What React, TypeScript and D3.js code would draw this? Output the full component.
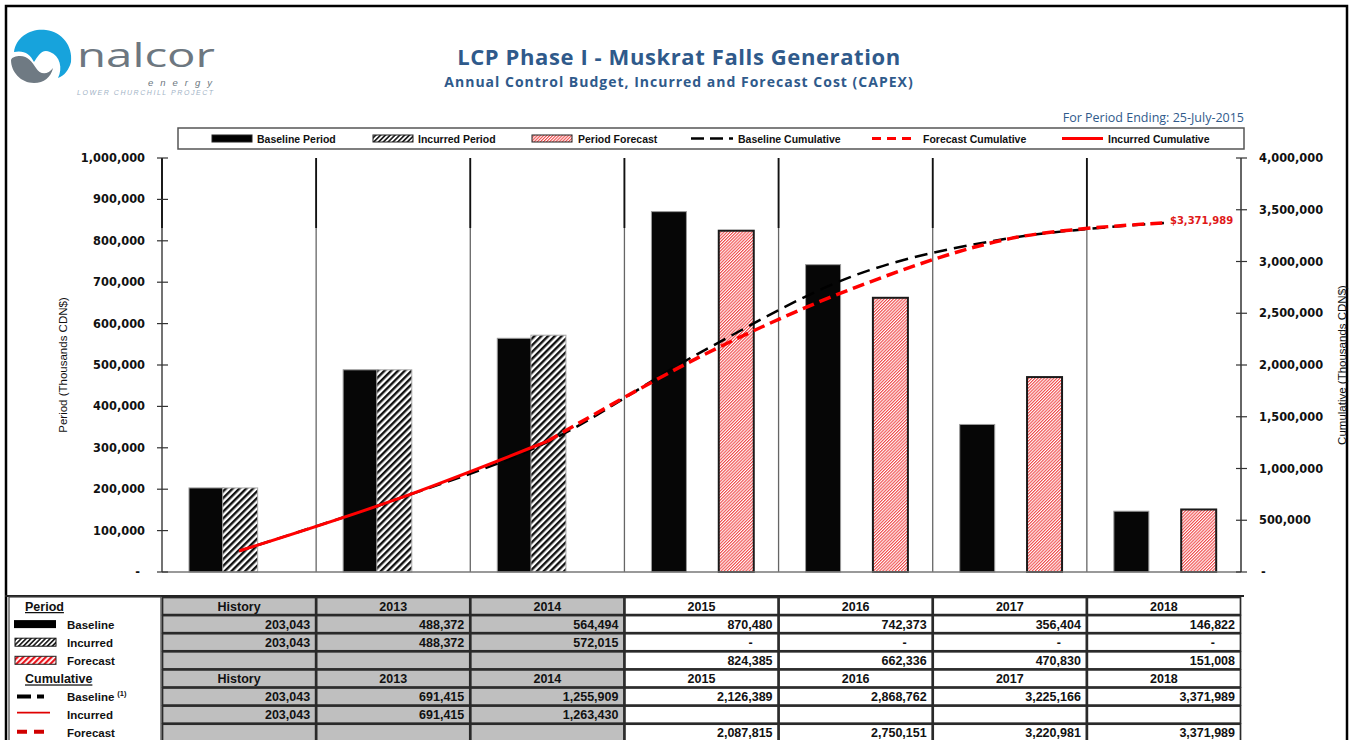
import * as d3 from "d3";

// ---- data (thousands CDN$) ----
const categories = ["History", "2013", "2014", "2015", "2016", "2017", "2018"];
const baselinePeriod = [203043, 488372, 564494, 870480, 742373, 356404, 146822];
const incurredPeriod = [203043, 488372, 572015, 0, 0, 0, 0];
const forecastPeriod: (number | null)[] = [null, null, null, 824385, 662336, 470830, 151008];
const baselineCumulative = [203043, 691415, 1255909, 2126389, 2868762, 3225166, 3371989];
const incurredCumulative: (number | null)[] = [203043, 691415, 1263430, null, null, null, null];
const forecastCumulative: (number | null)[] = [null, null, null, 2087815, 2750151, 3220981, 3371989];
const finalLabel = "$3,371,989";

const W = 1352;
const H = 740;
const PLOT = { left: 162, right: 1241, top: 158, bottom: 572 };
const TABLE_TOP = 597;
const ROW_H = 18.1;
const BAR_W = 35;

const SANS = "'Liberation Sans', Arial, sans-serif";
const VERDANA = "'DejaVu Sans', Verdana, sans-serif";
const TITLE_FONT = "'Open Sans', 'Liberation Sans', sans-serif";
const BLUE = "#2f5a8b";
const RED = "#ff0000";

const fmt = d3.format(",");
const acct = (v: number | null) => (v === null ? "" : v === 0 ? "-" : fmt(v));

function Logo() {
  return (
    <g>
      <path
        d="M14,52 C16,36 32,28 46,30 C62,32 73,46 71,62 C69,70 64,76 58,78 C63,68 60,56 50,52 C42,48 38,56 34,62 C30,54 24,50 14,52 Z"
        fill="#17a3dc"
      />
      <path
        d="M11,60 C11,72 21,83 34,83 C44,83 51,77 53,68 C48,75 40,75 36,68 C32,62 28,56 20,56 C16,56 12,57 11,60 Z"
        fill="#6f7a83"
      />
      <text
        x={77}
        y={67}
        fontFamily="'Open Sans', sans-serif"
        fontSize={33}
        fill="#6d7780"
        textLength={138}
        lengthAdjust="spacingAndGlyphs"
      >
        nalcor
      </text>
      <text x={148} y={86} fontFamily={SANS} fontStyle="italic" fontSize={9.5} fill="#6d7780" textLength={64}>
        energy
      </text>
      <text x={77} y={95} fontFamily={SANS} fontStyle="italic" fontSize={7} fill="#9fb3c6" textLength={136}>
        LOWER CHURCHILL PROJECT
      </text>
    </g>
  );
}

export default function App() {
  const x = d3.scaleBand<string>().domain(categories).range([PLOT.left, PLOT.right]).padding(0);
  const yLeft = d3.scaleLinear().domain([0, 1000000]).range([PLOT.bottom, PLOT.top]);
  const yRight = d3.scaleLinear().domain([0, 4000000]).range([PLOT.bottom, PLOT.top]);
  const slot = d3.scaleBand<string>().domain(["baseline", "incurred", "forecast"]).range([27, 128]);
  const cx = (c: string) => (x(c) ?? 0) + x.bandwidth() / 2;

  const line = d3
    .line<[string, number]>()
    .x((d) => cx(d[0]))
    .y((d) => yRight(d[1]))
    .curve(d3.curveCardinal.tension(0));

  const pairs = (vals: (number | null)[]) =>
    categories.map((c, i) => [c, vals[i]] as [string, number | null]).filter((d) => d[1] !== null) as [string, number][];

  const baselinePts = pairs(baselineCumulative);
  const incurredPts = pairs(incurredCumulative);
  // the forecast curve picks up from the last incurred point
  const forecastPts = [incurredPts[incurredPts.length - 1], ...pairs(forecastCumulative)];
  const lastPt = forecastPts[forecastPts.length - 1];

  const separators = categories.slice(1).map((c) => x(c) ?? 0);

  const rowY = (r: number) => TABLE_TOP + r * ROW_H;
  const periodRows = [baselinePeriod, incurredPeriod, forecastPeriod];
  const cumRows = [baselineCumulative, incurredCumulative, forecastCumulative];

  const legendItems = [
    { kind: "bar", fill: "#000", x0: 212, x1: 252, label: "Baseline Period", tx: 257 },
    { kind: "bar", fill: "url(#hatchBlackSm)", x0: 373, x1: 413, label: "Incurred Period", tx: 418 },
    { kind: "bar", fill: "url(#hatchRed)", x0: 532, x1: 572, label: "Period Forecast", tx: 578 },
    { kind: "line", stroke: "#000", dash: "13 6", w: 2.5, x0: 691, x1: 733, label: "Baseline Cumulative", tx: 738 },
    { kind: "line", stroke: RED, dash: "9 6", w: 3, x0: 872, x1: 917, label: "Forecast Cumulative", tx: 923 },
    { kind: "line", stroke: RED, dash: "", w: 3, x0: 1062, x1: 1103, label: "Incurred Cumulative", tx: 1108 },
  ];

  return (
    <svg
      width={W}
      height={H}
      viewBox={`0 0 ${W} ${H}`}
      style={{ position: "absolute", left: 0, top: 0, background: "#fff" }}
    >
      <defs>
        <pattern id="hatchBlack" width={4.8} height={4.8} patternUnits="userSpaceOnUse" patternTransform="rotate(45)">
          <rect width={4.8} height={4.8} fill="#fff" />
          <rect width={2.4} height={4.8} fill="#111" />
        </pattern>
        <pattern id="hatchBlackSm" width={3.4} height={3.4} patternUnits="userSpaceOnUse" patternTransform="rotate(45)">
          <rect width={3.4} height={3.4} fill="#fff" />
          <rect width={1.7} height={3.4} fill="#222" />
        </pattern>
        <pattern id="hatchRed" width={2.2} height={2.2} patternUnits="userSpaceOnUse" patternTransform="rotate(45)">
          <rect width={2.2} height={2.2} fill="#fff" />
          <rect width={1.1} height={2.2} fill="#f04848" />
        </pattern>
        <pattern id="hatchRedBold" width={4} height={4} patternUnits="userSpaceOnUse" patternTransform="rotate(45)">
          <rect width={4} height={4} fill="#fff" />
          <rect width={2.2} height={4} fill="#e8141c" />
        </pattern>
      </defs>

      <rect x={6} y={6} width={1341} height={760} fill="#fff" stroke="#000" strokeWidth={2.5} />

      <Logo />

      <text
        x={679}
        y={65}
        textAnchor="middle"
        fontFamily={TITLE_FONT}
        fontWeight={700}
        fontSize={22}
        letterSpacing={0.6}
        fill={BLUE}
      >
        LCP Phase I - Muskrat Falls Generation
      </text>
      <text
        x={679}
        y={87}
        textAnchor="middle"
        fontFamily={TITLE_FONT}
        fontWeight={700}
        fontSize={14}
        letterSpacing={1}
        fill={BLUE}
      >
        Annual Control Budget, Incurred and Forecast Cost (CAPEX)
      </text>
      <text x={1244} y={122} textAnchor="end" fontFamily={TITLE_FONT} fontSize={12.5} fill={BLUE}>
        For Period Ending: 25-July-2015
      </text>

      {/* legend */}
      <rect x={178} y={128} width={1066} height={21} fill="#fff" stroke="#555" strokeWidth={1.5} />
      {legendItems.map((d) => (
        <g key={d.label}>
          {d.kind === "bar" ? (
            <rect x={d.x0} y={135} width={d.x1 - d.x0} height={7} fill={d.fill} stroke="#222" strokeWidth={1} />
          ) : (
            <line x1={d.x0} x2={d.x1} y1={138.5} y2={138.5} stroke={d.stroke} strokeWidth={d.w} strokeDasharray={d.dash} />
          )}
          <text x={d.tx} y={142.5} fontFamily={SANS} fontWeight={700} fontSize={10.5} fill="#111">
            {d.label}
          </text>
        </g>
      ))}

      {/* category separators */}
      {separators.map((sx) => (
        <g key={sx}>
          <line x1={sx} x2={sx} y1={PLOT.top} y2={PLOT.bottom} stroke="#666" strokeWidth={1.3} />
          <line x1={sx} x2={sx} y1={PLOT.top} y2={228} stroke="#111" strokeWidth={1.8} />
        </g>
      ))}

      {/* bars */}
      {categories.map((c, i) => {
        const x0 = x(c) ?? 0;
        const f = forecastPeriod[i];
        return (
          <g key={c}>
            <rect
              x={x0 + (slot("baseline") ?? 0)}
              y={yLeft(baselinePeriod[i])}
              width={BAR_W}
              height={yLeft(0) - yLeft(baselinePeriod[i])}
              fill="#060606"
              stroke="#9a9a9a"
              strokeWidth={1}
            />
            {incurredPeriod[i] > 0 && (
              <rect
                x={x0 + (slot("incurred") ?? 0)}
                y={yLeft(incurredPeriod[i])}
                width={BAR_W}
                height={yLeft(0) - yLeft(incurredPeriod[i])}
                fill="url(#hatchBlack)"
                stroke="#aaa"
                strokeWidth={1}
              />
            )}
            {f !== null && (
              <rect
                x={x0 + (slot("forecast") ?? 0)}
                y={yLeft(f)}
                width={BAR_W}
                height={yLeft(0) - yLeft(f)}
                fill="url(#hatchRed)"
                stroke="#1a1a1a"
                strokeWidth={2}
              />
            )}
          </g>
        );
      })}

      {/* axes */}
      <line x1={PLOT.left} x2={PLOT.right} y1={PLOT.bottom} y2={PLOT.bottom} stroke="#777" strokeWidth={1.5} />
      <line x1={PLOT.left} x2={PLOT.left} y1={PLOT.top} y2={PLOT.bottom} stroke="#444" strokeWidth={1.5} />
      <line x1={PLOT.left} x2={PLOT.left} y1={PLOT.top} y2={228} stroke="#111" strokeWidth={1.8} />
      <line x1={PLOT.right} x2={PLOT.right} y1={PLOT.top} y2={PLOT.bottom} stroke="#333" strokeWidth={1.5} />
      {yLeft.ticks(10).map((t) => (
        <g key={`l${t}`}>
          <line x1={PLOT.left - 5} x2={PLOT.left + 6} y1={yLeft(t)} y2={yLeft(t)} stroke="#333" strokeWidth={1.2} />
          <text
            x={t === 0 ? 140 : 145}
            y={yLeft(t) + 4}
            textAnchor="end"
            fontFamily={VERDANA}
            fontWeight={700}
            fontSize={11.4}
            fill="#111"
          >
            {acct(t)}
          </text>
        </g>
      ))}
      {yRight.ticks(8).map((t) => (
        <g key={`r${t}`}>
          <line x1={PLOT.right - 5} x2={PLOT.right + 6} y1={yRight(t)} y2={yRight(t)} stroke="#333" strokeWidth={1.2} />
          <text
            x={t === 0 ? 1261 : 1259}
            y={yRight(t) + 4}
            fontFamily={VERDANA}
            fontWeight={700}
            fontSize={11.4}
            fill="#111"
          >
            {acct(t)}
          </text>
        </g>
      ))}
      <text
        transform={`translate(67,${(PLOT.top + PLOT.bottom) / 2}) rotate(-90)`}
        textAnchor="middle"
        fontFamily={SANS}
        fontSize={11.5}
        fill="#111"
      >
        Period (Thousands CDN$)
      </text>
      <text
        transform={`translate(1346,${(PLOT.top + PLOT.bottom) / 2}) rotate(-90)`}
        textAnchor="middle"
        fontFamily={SANS}
        fontSize={11.5}
        fill="#111"
      >
        Cumulative (Thousands CDN$)
      </text>

      {/* cumulative curves */}
      <path d={line(baselinePts) ?? ""} fill="none" stroke="#000" strokeWidth={2.5} strokeDasharray="13 7" />
      <path d={line(forecastPts) ?? ""} fill="none" stroke={RED} strokeWidth={3.5} strokeDasharray="12 6" />
      <path d={line(incurredPts) ?? ""} fill="none" stroke={RED} strokeWidth={3} />
      <text
        x={cx(lastPt[0]) + 6}
        y={yRight(lastPt[1]) + 1}
        fontFamily={VERDANA}
        fontWeight={700}
        fontSize={10}
        fill="#e01818"
      >
        {finalLabel}
      </text>

      {/* data table */}
      <line x1={5} x2={1244} y1={TABLE_TOP - 1} y2={TABLE_TOP - 1} stroke="#222" strokeWidth={2} />
      <rect x={9} y={TABLE_TOP} width={PLOT.left - 10} height={ROW_H * 8 + 4} fill="#fff" stroke="#444" strokeWidth={1.2} />
      {d3.range(8).map((r) =>
        categories.map((c, i) => {
          const isHeader = r === 0 || r === 4;
          const vals = r < 4 ? periodRows[r - 1] : cumRows[r - 5];
          const grey = i < 3;
          return (
            <g key={`${r}-${c}`}>
              <rect
                x={(x(c) ?? 0) + 0.5}
                y={rowY(r) + 0.5}
                width={x.bandwidth() - 1}
                height={ROW_H - 1}
                fill={grey ? "#bfbfbf" : "#fff"}
                stroke="#2a2a2a"
                strokeWidth={1.7}
              />
              <text
                x={isHeader ? cx(c) : (x(c) ?? 0) + x.bandwidth() - (vals && vals[i] === 0 ? 26 : 6)}
                y={rowY(r) + ROW_H / 2 + 4.5}
                textAnchor={isHeader ? "middle" : "end"}
                fontFamily={SANS}
                fontWeight={700}
                fontSize={12.5}
                fill="#111"
              >
                {isHeader ? c : acct(vals[i])}
              </text>
            </g>
          );
        })
      )}

      {/* table row labels */}
      <g fontFamily={SANS} fontWeight={700} fill="#111">
        <text x={25} y={rowY(0) + 14} fontSize={12.5} textDecoration="underline">
          Period
        </text>
        <rect x={14} y={rowY(1) + 5} width={42} height={8} fill="#000" />
        <text x={67} y={rowY(1) + 13.5} fontSize={11.5}>Baseline</text>
        <rect x={15} y={rowY(2) + 5} width={41} height={8} fill="url(#hatchBlackSm)" stroke="#111" strokeWidth={1} />
        <text x={67} y={rowY(2) + 13.5} fontSize={11.5}>Incurred</text>
        <rect x={15} y={rowY(3) + 5} width={41} height={8} fill="url(#hatchRedBold)" stroke="#222" strokeWidth={1} />
        <text x={67} y={rowY(3) + 13.5} fontSize={11.5}>Forecast</text>
        <text x={25} y={rowY(4) + 14} fontSize={12.5} textDecoration="underline">
          Cumulative
        </text>
        <line x1={17} x2={44} y1={rowY(5) + 9} y2={rowY(5) + 9} stroke="#000" strokeWidth={4} strokeDasharray="14 6" />
        <text x={67} y={rowY(5) + 13.5} fontSize={11.5}>
          Baseline
          <tspan dx={3} dy={-5} fontSize={7.5}>(1)</tspan>
        </text>
        <line x1={17} x2={50} y1={rowY(6) + 7} y2={rowY(6) + 7} stroke="#e00000" strokeWidth={1.8} />
        <text x={67} y={rowY(6) + 13.5} fontSize={11.5}>Incurred</text>
        <line x1={17} x2={44} y1={rowY(7) + 8} y2={rowY(7) + 8} stroke="#d00000" strokeWidth={4} strokeDasharray="10 7" />
        <text x={67} y={rowY(7) + 13.5} fontSize={11.5}>Forecast</text>
      </g>
    </svg>
  );
}
